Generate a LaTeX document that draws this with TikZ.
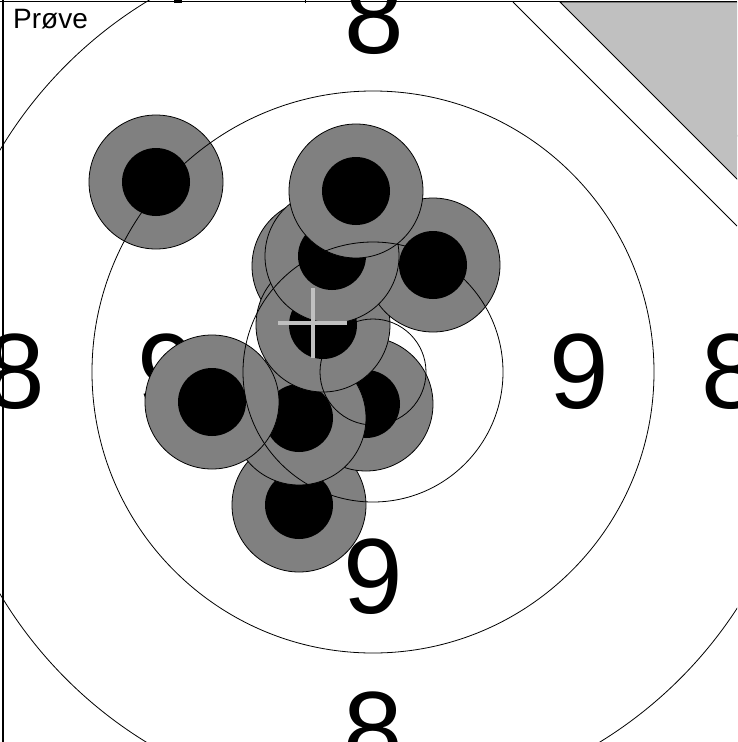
\documentclass[tikz,border=0pt]{standalone}
\usepackage{fontspec}
\setmainfont{Liberation Sans}
\definecolor{hitgray}{RGB}{128,128,128}
\definecolor{palegray}{RGB}{192,192,192}
\newcommand\shothit[1]{%
  \fill[hitgray,draw=black,line width=0.8pt] (#1) circle[radius=67];
  \fill[black] (#1) circle[radius=34];}
\begin{document}
\begin{tikzpicture}[x=1pt,y=-1pt,
  ring/.style={draw=black,line width=0.8pt},
  score/.style={font=\fontsize{107}{107}\selectfont,inner sep=0pt,text=black},
  border/.style={draw=black,line width=1.5pt}]
\useasboundingbox (0,0) rectangle (737,742);
\fill[white] (0,0) rectangle (737,742);
\clip (0,0) rectangle (737,742);
\coordinate (tgt) at (373,372);
% score numbers
\node[score] (n9r) at (579,372) {9};
\node[score] (n9l) at (167,372) {9};
\node[score] (n9b) at (373,577) {9};
\node[score] (n9t) at (373,167) {9};
\node[score] (n8r) at (731,372) {8};
\node[score] (n8l) at (15,372) {8};
\node[score] (n8t) at (374,17) {8};
\node[score] (n8b) at (373,730) {8};
% hits
\coordinate (hA) at (156,182);
\coordinate (hK) at (299,505);
\coordinate (hI) at (366,404);
\coordinate (hH) at (299,418);
\coordinate (hG) at (212,402);
\coordinate (hE) at (319,266);
\coordinate (hF) at (323,325);
\coordinate (hC) at (433,265);
\coordinate (hD) at (332,256);
\coordinate (hB) at (356,191);
\shothit{hA}
\shothit{hK}
\shothit{hI}
\shothit{hH}
\shothit{hG}
\shothit{hE}
\shothit{hF}
\shothit{hC}
\shothit{hD}
\shothit{hB}
% rings
\draw[ring] (tgt) circle[radius=53];
\draw[ring] (tgt) circle[radius=130];
\draw[ring] (tgt) circle[radius=281];
\draw[ring] (tgt) circle[radius=434];
% aiming cross
\draw[palegray,line width=3.4pt] (313,288) -- (313,358);
\draw[palegray,line width=3.4pt] (278,323) -- (347,323);
% corner marks (cover the rings)
\fill[white] (513,0) -- (740,0) -- (740,229) -- cycle;
\draw[black,line width=0.8pt] (513,2) -- (737,226);
\fill[palegray,draw=black,line width=0.8pt] (560,2) -- (740,2) -- (740,182) -- cycle;
% frame
\draw[border] (0,1.5) -- (737,1.5);
\draw[border] (3,0) -- (3,742);
\draw[black,line width=1pt] (305,0) -- (305,3);
\fill[black] (174,0) rectangle (182,3);
\node[font=\fontsize{28}{28}\selectfont,inner sep=0pt,anchor=base west] (prove) at (13,28) {Prøve};
\end{tikzpicture}
\end{document}
